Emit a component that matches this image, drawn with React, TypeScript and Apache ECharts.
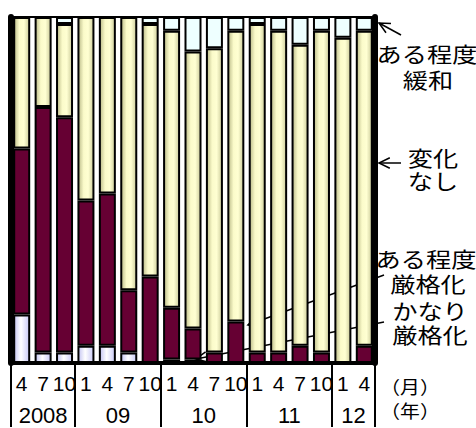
import React, { useEffect, useRef } from 'react';
import * as echarts from 'echarts';

// Quarter labels (month) and their year group
const months = ['4', '7', '10', '1', '4', '7', '10', '1', '4', '7', '10', '1', '4', '7', '10', '1', '4'];
const years = ['2008', '2008', '2008', '09', '09', '09', '09', '10', '10', '10', '10', '11', '11', '11', '11', '12', '12'];

// Shares (%) of responses
const severeTight = [14, 3, 3, 5, 5, 3, 0, 1, 1, 0, 0, 0, 0, 0, 0, 0, 0]; // かなり厳格化
const someTight = [48, 71, 68, 42, 44, 18, 25, 15, 9, 3, 12, 3, 3, 5, 3, 0, 5]; // ある程度厳格化
const noChange = [38, 26, 27, 53, 51, 79, 73, 80, 80, 88, 84, 95, 93, 87, 93, 94, 91]; // 変化なし
const someEase = [0, 0, 2, 0, 0, 0, 2, 4, 10, 9, 4, 2, 4, 8, 4, 6, 4]; // ある程度緩和

const monthUnit = '（月）';
const yearUnit = '（年）';

export default function App() {
  const ref = useRef<HTMLDivElement>(null);
  useEffect(() => {
    if (!ref.current) return;
    const chart = echarts.init(ref.current, undefined, { renderer: 'svg' });

    const groups: { label: string; start: number; end: number }[] = [];
    years.forEach((y, i) => {
      const last = groups[groups.length - 1];
      if (last && last.label === y) last.end = i + 1;
      else groups.push({ label: y, start: i, end: i + 1 });
    });
    const boundaries = [0, ...groups.map((g) => g.end)];
    const centers = groups.map((g) => (g.start + g.end) / 2);

    const grad = (stops: [number, string][]) =>
      new echarts.graphic.LinearGradient(0, 0, 1, 0, stops.map(([offset, color]) => ({ offset, color })));

    const mk = (name: string, data: number[], color: any) => ({
      type: 'bar',
      name,
      stack: 'total',
      data,
      barWidth: 17,
      xAxisIndex: 0,
      yAxisIndex: 0,
      itemStyle: { color, borderColor: '#000', borderWidth: 2 },
    });

    const font = 'Liberation Sans, Arial, sans-serif';
    const jp = 'Noto Sans CJK JP, sans-serif';

    const arrow = (x1: number, y1: number, x2: number, y2: number) => {
      const a = Math.atan2(y2 - y1, x2 - x1);
      const L = 12;
      const w = 0.45;
      const p1 = [x2 - L * Math.cos(a - w), y2 - L * Math.sin(a - w)];
      const p2 = [x2 - L * Math.cos(a + w), y2 - L * Math.sin(a + w)];
      return [
        { type: 'line', shape: { x1, y1, x2, y2 }, style: { stroke: '#000', lineWidth: 1.5 } },
        { type: 'polyline', shape: { points: [p1, [x2, y2], p2] }, style: { stroke: '#000', lineWidth: 1.5, fill: null } },
      ];
    };
    const label = (text: string, x: number, y: number, sx = 1.2, size = 20) => ({
      type: 'text',
      x,
      y,
      scaleX: sx,
      style: { text, fontSize: size, fontFamily: jp, fill: '#000', textAlign: 'center', textVerticalAlign: 'middle' },
    });

    chart.setOption({
      animation: false,
      grid: { left: 11, right: 101, top: 17, bottom: 65, show: true, borderColor: '#000', borderWidth: 2 },
      xAxis: [
        {
          type: 'category',
          data: months,
          position: 'bottom',
          axisLine: { show: true, lineStyle: { color: '#000', width: 4 } },
          axisTick: { show: false },
          axisLabel: { color: '#000', fontSize: 21, fontFamily: font, margin: 10, interval: 0 },
        },
        {
          type: 'value',
          min: 0,
          max: months.length,
          position: 'bottom',
          axisLine: { show: false },
          splitLine: { show: false },
          axisTick: { show: true, customValues: boundaries, length: 64, lineStyle: { color: '#000', width: 2 } },
          axisLabel: {
            show: true,
            customValues: centers,
            color: '#000',
            fontSize: 22,
            fontFamily: font,
            margin: 41,
            formatter: (v: number) => {
              const i = centers.findIndex((c) => Math.abs(c - v) < 1e-6);
              return i >= 0 ? groups[i].label : '';
            },
          },
        },
      ],
      yAxis: [
        {
          type: 'value',
          min: 0,
          max: 100,
          axisLine: { show: true, lineStyle: { color: '#000', width: 6 } },
          axisTick: { show: false },
          axisLabel: { show: false },
          splitLine: { show: false },
        },
        {
          type: 'value',
          min: 0,
          max: 100,
          position: 'right',
          axisLine: { show: true, lineStyle: { color: '#000', width: 6 } },
          axisTick: { show: false },
          axisLabel: { show: false },
          splitLine: { show: false },
        },
      ],
      series: [
        mk('かなり厳格化', severeTight, grad([[0, '#c4c4f2'], [0.45, '#ffffff'], [1, '#cacaf6']])),
        mk('ある程度厳格化', someTight, '#660033'),
        mk('変化なし', noChange, grad([[0, '#bcbc8a'], [0.35, '#fbfbca'], [0.65, '#ffffd2'], [1, '#cdcd9c']])),
        mk('ある程度緩和', someEase, '#eeffff'),
      ],
      graphic: [
        ...arrow(401, 35, 379, 23),
        ...arrow(401, 163, 379, 163),
        ...arrow(384, 275, 248, 325),
        ...arrow(384, 322, 196, 359),
        label('ある程度', 427, 53, 1.2, 21),
        label('緩和', 428, 79, 1.2, 21),
        label('変化', 433, 157, 1.2, 21),
        label('なし', 433, 180, 1.2, 21),
        label('ある程度', 426, 258, 1.2, 21),
        label('厳格化', 428, 283, 1.2, 21),
        label('かなり', 430, 310, 1.2, 21),
        label('厳格化', 430, 334, 1.2, 21),
        label(monthUnit, 410, 386, 1.1, 18),
        label(yearUnit, 410, 410, 1.1, 18),
      ],
    });
    return () => chart.dispose();
  }, []);
  return <div ref={ref} style={{ position: 'fixed', left: 0, top: 0, width: 476, height: 428, background: '#fff' }} />;
}
